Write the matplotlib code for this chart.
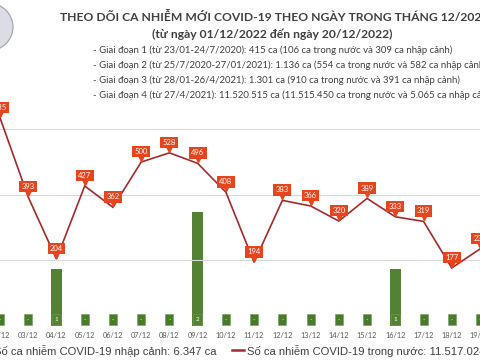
import matplotlib
matplotlib.use("Agg")
import matplotlib.pyplot as plt
from matplotlib.lines import Line2D
from matplotlib.patches import Ellipse
import matplotlib.transforms as mtransforms

# ---- data ----
dates = ["02/12", "03/12", "04/12", "05/12", "06/12", "07/12", "08/12", "09/12",
         "10/12", "11/12", "12/12", "13/12", "14/12", "15/12", "16/12", "17/12",
         "18/12", "19/12"]
domestic = [635, 393, 204, 427, 362, 500, 528, 496, 408, 194, 383, 366, 320,
            389, 333, 319, 177, 235]
imported = [0, 0, 1, 0, 0, 0, 0, 2, 0, 0, 0, 0, 0, 0, 1, 0, 0, 0]

title1 = "THEO DÕI CA NHIỄM MỚI COVID-19 THEO NGÀY TRONG THÁNG 12/2022"
title2 = "(từ ngày 01/12/2022 đến ngày 20/12/2022)"
notes = [
    "- Giai đoạn 1 (từ 23/01-24/7/2020): 415 ca (106 ca trong nước và 309 ca nhập cảnh)",
    "- Giai đoạn 2 (từ 25/7/2020-27/01/2021): 1.136 ca (554 ca trong nước và 582 ca nhập cảnh)",
    "- Giai đoạn 3 (từ 28/01-26/4/2021): 1.301 ca (910 ca trong nước và 391 ca nhập cảnh)",
    "- Giai đoạn 4 (từ 27/4/2021): 11.520.515 ca (11.515.450 ca trong nước và 5.065 ca nhập cảnh)",
]
legend_bar = "Số ca nhiễm COVID-19 nhập cảnh: 6.347 ca"
legend_line = "Số ca nhiễm COVID-19 trong nước: 11.517.024 ca"

W, H = 480, 360
LINE_C = "#A8292C"
LABEL_C = "#E8451E"
BAR_C = "#548235"
TXT_C = "#404040"

fig = plt.figure(figsize=(4.8, 3.6), dpi=100)
fig.patch.set_facecolor("white")

ax = fig.add_axes([0, 34 / H, 1, 326 / H])
ax2 = ax.twinx()
for a in (ax, ax2):
    a.set_facecolor("none")
    for s in a.spines.values():
        s.set_visible(False)
    a.tick_params(left=False, right=False, labelleft=False, labelright=False)

x = list(range(len(dates)))
ax.set_xlim(4 / 29, 4 / 29 + W / 29)
ax.set_ylim(0, 994)
ax2.set_ylim(0, 5.72)

# gridlines
for g in (0, 200, 400, 600):
    ax.axhline(g, color="#D9D9D9", lw=0.8, zorder=0)

# bars (imported)
ax2.bar(x, imported, width=0.41, color=BAR_C, zorder=2)
for xi, v in zip(x, imported):
    txt = "-" if v == 0 else str(v)
    ax2.annotate(txt, (xi, 0), xytext=(0, 4.5), textcoords="offset points",
                 ha="center", va="center", color="white", fontsize=4.5,
                 family="Lato",
                 bbox=dict(boxstyle="square,pad=0.45", fc="#4A7A2C" if v == 0 else BAR_C,
                           ec="#6E9C52", lw=0.4), zorder=3)

# line (domestic)
ax.set_zorder(ax2.get_zorder() + 1)
ax.plot(x, domestic, color=LINE_C, lw=1.2, zorder=4, solid_joinstyle="miter")
tri = mtransforms.offset_copy(ax.transData, fig=fig, x=0, y=4, units="dots")
ax.plot(x, domestic, ls="none", marker="v", ms=4.5, color=LABEL_C,
        transform=tri, zorder=5)
for xi, v in zip(x, domestic):
    ax.annotate(str(v), (xi, v), xytext=(0, 7.5), textcoords="offset points",
                ha="center", va="center", color="white", fontsize=5.5,
                family="Lato",
                bbox=dict(boxstyle="square,pad=0.3", fc=LABEL_C, ec="none"),
                zorder=6)

# x tick labels
ax.set_xticks(x)
ax.set_xticklabels(dates, fontsize=5.3, color="#595959", family="Lato")
ax.tick_params(axis="x", length=0, pad=4.5)

# titles & notes
fig.text(60 / W, 1 - 17 / H, title1, ha="left", va="center", fontsize=8.7,
         color=TXT_C, family="Lato", fontweight="bold")
fig.text(272 / W, 1 - 34 / H, title2, ha="center", va="center", fontsize=8.7,
         color=TXT_C, family="Lato", fontweight="bold")
for i, n in enumerate(notes):
    fig.text(93 / W, 1 - (50 + 15 * i) / H, n, ha="left", va="center",
             fontsize=6.9, color=TXT_C, family="Lato")

# logo fragment
fig.patches.append(Ellipse((-12 / W, 1 - 27 / H), 50 / W, 48 / H,
                           transform=fig.transFigure, fc="#DCDCE4", ec="#A0A0B2",
                           lw=0.8))

# legend
fig.text(216 / W, 1 - 351 / H, legend_bar, ha="right", va="center",
         fontsize=8.1, color="#404040", family="Liberation Sans")
fig.add_artist(Line2D([232 / W, 244 / W], [1 - 350 / H, 1 - 350 / H],
                      color=LINE_C, lw=1.8, transform=fig.transFigure))
fig.text(247 / W, 1 - 351 / H, legend_line, ha="left", va="center",
         fontsize=8.1, color="#404040", family="Liberation Sans")

fig.savefig("out.png", dpi=100, facecolor="white")
